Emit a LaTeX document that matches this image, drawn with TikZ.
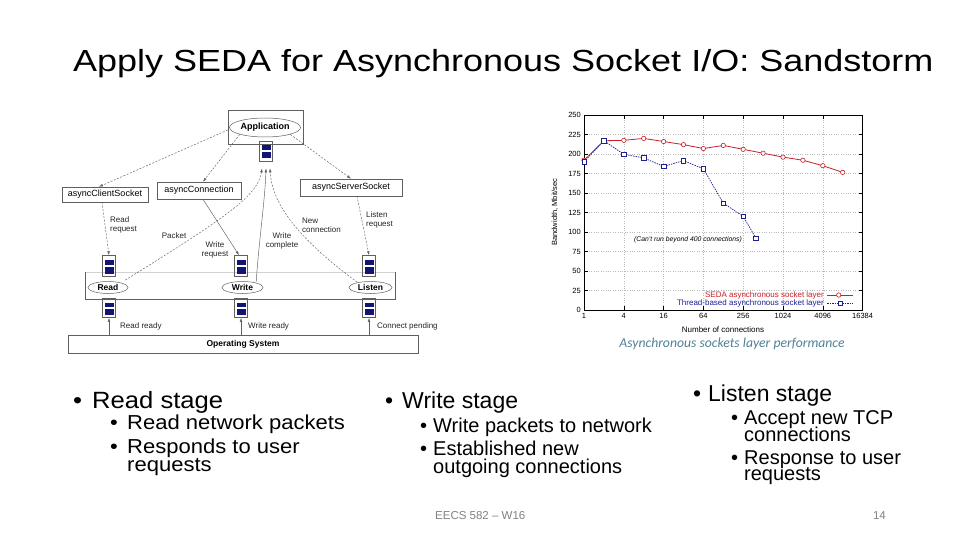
\documentclass[tikz,border=0pt]{standalone}
\usepackage{fontspec}
\setmainfont{Liberation Sans}
\newfontfamily\titlefont[FakeStretch=1.18]{Liberation Sans}
\newfontfamily\widefont[FakeStretch=1.09]{Liberation Sans}
\newfontfamily\capfont{Carlito}
\usetikzlibrary{arrows.meta,shapes.geometric,calc}
\definecolor{qblue}{RGB}{20,20,120}
\definecolor{dgray}{RGB}{95,95,95}
\definecolor{sedared}{RGB}{200,30,40}
\definecolor{thrblue}{RGB}{30,30,150}
\definecolor{capcol}{RGB}{80,130,150}
\definecolor{footgray}{RGB}{130,130,130}
\tikzset{
  dbox/.style={draw=dgray, line width=0.5pt, inner sep=0pt, font=\fontsize{9}{10}\selectfont},
  stg/.style={ellipse, draw=dgray, line width=0.5pt, inner sep=0pt, font=\bfseries\fontsize{8.5}{10}\selectfont},
  queue/.style={draw=dgray, line width=0.6pt, minimum width=13pt, minimum height=20pt, inner sep=0pt,
    path picture={
      \fill[qblue] ([shift={(2pt,-4pt)}]path picture bounding box.north west) rectangle ([shift={(-2pt,0.8pt)}]path picture bounding box.east);
      \fill[qblue] ([shift={(2pt,-0.8pt)}]path picture bounding box.west) rectangle ([shift={(-2pt,2.5pt)}]path picture bounding box.south east);
    }},
  lab/.style={font=\fontsize{8}{9}\selectfont, text=black!85, inner sep=0pt},
  dar/.style={draw=dgray, line width=0.45pt, dash pattern=on 2pt off 1.5pt, -{Latex[length=4pt,width=2.6pt]}},
  sar/.style={draw=dgray, line width=0.45pt, -{Latex[length=4pt,width=2.6pt]}},
  grid/.style={draw=gray!55, line width=0.4pt, dotted},
  tick/.style={font=\fontsize{7.5}{8.5}\selectfont, inner sep=1pt},
  mainb/.style={anchor=base west, inner sep=0pt, font=\fontsize{23}{26}\selectfont},
  subb/.style={anchor=base west, inner sep=0pt, font=\fontsize{20}{22}\selectfont},
  mainw/.style={anchor=base west, inner sep=0pt, font=\widefont\fontsize{23.5}{26}\selectfont},
  subw/.style={anchor=base west, inner sep=0pt, font=\widefont\fontsize{20.2}{22}\selectfont},
}
\begin{document}
\begin{tikzpicture}[x=1pt,y=-1pt]
\useasboundingbox (0,0) rectangle (960,540);
\fill[white] (0,0) rectangle (960,540);

% Title
\node[anchor=base west, inner sep=0pt, font=\titlefont\fontsize{30.5}{34}\selectfont] (title) at (73,72) {Apply SEDA for Asynchronous Socket I/O: Sandstorm};

% ---------- SEDA diagram ----------
\node[draw=dgray, line width=0.5pt, minimum width=75pt, minimum height=34pt, inner sep=0pt] (appbox) at (265.5,127) {};
\node[stg, minimum width=71pt, minimum height=19pt, font=\bfseries\fontsize{9}{10}\selectfont] (app) at (265,127.5) {Application};
\node[queue] (appq) at (266,151) {};

\node[dbox, minimum width=86pt, minimum height=15pt] (cs) at (105,194.5) {asyncClientSocket};
\node[dbox, minimum width=84pt, minimum height=17pt] (conn) at (199,190.5) {asyncConnection};
\node[dbox, minimum width=102pt, minimum height=17pt] (ss) at (351,187.5) {asyncServerSocket};

\node[minimum width=310pt, minimum height=27pt, inner sep=0pt] (band) at (240,285.5) {};
\draw[gray!35, line width=0.6pt] (band.north west) -- (band.north east);
\draw[dgray, line width=0.6pt] (band.north east) -- (band.south east) -- (band.south west) -- (band.north west);

\node[queue, minimum height=21pt] (readq) at (109,266) {};
\node[queue, minimum height=21pt] (writeq) at (241,266) {};
\node[queue, minimum height=21pt] (listenq) at (369,266) {};
\node[queue, minimum height=19pt] (readq2) at (109,308) {};
\node[queue, minimum height=19pt] (writeq2) at (241,308) {};
\node[queue, minimum height=19pt] (listenq2) at (369,308) {};

\node[stg, minimum width=40pt, minimum height=12pt] (read) at (108,287.5) {Read};
\node[stg, minimum width=41pt, minimum height=12pt] (write) at (242.5,287.5) {Write};
\node[stg, minimum width=43pt, minimum height=12pt] (listen) at (370.5,287.5) {Listen};

\node[draw=dgray, line width=0.6pt, minimum width=350pt, minimum height=18pt, inner sep=0pt, font=\bfseries\fontsize{8.5}{10}\selectfont] (os) at (243,344) {Operating System};

% connectors
\draw[dar] ([yshift=-3pt]appbox.west) -- ([xshift=-6pt]cs.north);
\draw[dar] (app.south west) -- ([xshift=4pt]conn.north);
\draw[dar] (app.south east) -- (ss.north);
\draw[dar] ([xshift=-3pt]cs.south) -- (readq.north);
\draw[sar] ([xshift=4pt]conn.south) -- ([xshift=-2pt]writeq.north);
\draw[dar] ([xshift=6pt]ss.south) -- (listenq.north);
\draw[dar] ([shift={(3pt,3pt)}]read.north east) .. controls (230,215) and (258,195) .. ([shift={(-4pt,-7pt)}]appq.south);
\draw[sar] ([shift={(-1pt,1pt)}]write.north east) .. controls (259,240) and (265,200) .. ([shift={(0pt,-7pt)}]appq.south);
\draw[dar] ([shift={(2pt,1pt)}]listen.north west) .. controls (300,240) and (272,205) .. ([shift={(4pt,-7pt)}]appq.south);
\draw[sar] (readq2 |- os.north) -- (readq2.south);
\draw[sar] (writeq2 |- os.north) -- (writeq2.south);
\draw[sar] (listenq2 |- os.north) -- (listenq2.south);

% connector labels
\node[lab, align=left, anchor=north west] (lrr) at (110,217) {Read\\request};
\node[lab] (lpk) at (174,236) {Packet};
\node[lab, align=center] (lwr) at (215,250) {Write\\request};
\node[lab, align=center] (lwc) at (282,241) {Write\\complete};
\node[lab, align=left, anchor=north west] (lnc) at (302,218) {New\\connection};
\node[lab, align=left, anchor=north west] (llr) at (366,212) {Listen\\request};
\node[lab, anchor=west] (lrd) at (120,326) {Read ready};
\node[lab, anchor=west] (lwd) at (248,326) {Write ready};
\node[lab, anchor=west] (lcp) at (377,326) {Connect pending};

% ---------- chart ----------
\begin{scope}[shift={(584,310)}, x=19.9pt, y=0.78pt]
  \foreach \v in {25,50,...,225} \draw[grid] (0,\v) -- (14,\v);
  \foreach \k in {2,4,...,12} \draw[grid] (\k,0) -- (\k,250);
  \draw[line width=0.5pt] (0,0) rectangle (14,250);
  \foreach \v in {0,25,...,250} {
    \draw[line width=0.4pt] (0,\v) -- (0.2,\v);
    \draw[line width=0.4pt] (14,\v) -- (13.8,\v);
    \node[tick, anchor=east] at (-0.1,\v) {\v};
  }
  \foreach \k/\l in {0/1,2/4,4/16,6/64,8/256,10/1024,12/4096,14/16384} {
    \draw[line width=0.4pt] (\k,0) -- (\k,5);
    \draw[line width=0.4pt] (\k,250) -- (\k,245);
    \node[tick, anchor=north] at (\k,-3) {\l};
  }
  \draw[sedared, line width=0.8pt] plot coordinates {(0,192) (1,217) (2,217.5) (3,220) (4,216) (5,212) (6,207) (7,211) (8,206) (9,201) (10,196) (11,192) (12,185) (13,176.5)};
  \foreach \x/\y in {0/192,1/217,2/217.5,3/220,4/216,5/212,6/207,7/211,8/206,9/201,10/196,11/192,12/185,13/176.5}
    \draw[sedared, fill=white, line width=0.6pt] (\x,\y) circle (2.2pt);
  \draw[thrblue, line width=0.7pt, dash pattern=on 1.5pt off 1pt] plot coordinates {(0,190) (1,217) (2,199.6) (3,195) (4,184) (5,191.5) (6,181) (7,137) (8,120) (8.64,92)};
  \foreach \x/\y in {0/190,1/217,2/199.6,3/195,4/184,5/191.5,6/181,7/137,8/120,8.64/92}
    \draw[thrblue, fill=white, line width=0.6pt] ([shift={(-2.2pt,-2.2pt)}]\x,\y) rectangle ([shift={(2.2pt,2.2pt)}]\x,\y);
\end{scope}
\node[tick, rotate=90] (ylab) at (555,212) {Bandwidth, Mbit/sec};
\node[tick, font=\fontsize{8}{9}\selectfont] (xlab) at (723,330) {Number of connections};
\node[tick, font=\itshape\fontsize{6.8}{8}\selectfont] (note) at (688,240) {(Can't run beyond 400 connections)};
\node[tick, anchor=east, text=sedared, font=\fontsize{8}{9}\selectfont] (leg1) at (825,295) {SEDA asynchronous socket layer};
\coordinate (l1a) at ([xshift=2pt]leg1.east);
\coordinate (l1b) at ([xshift=28pt]leg1.east);
\draw[sedared, line width=0.8pt] (l1a) -- (l1b);
\draw[sedared, fill=white, line width=0.6pt] ($(l1a)!0.45!(l1b)$) circle (2.2pt);
\node[tick, anchor=east, text=thrblue, font=\fontsize{8}{9}\selectfont] (leg2) at (825,303) {Thread-based asynchronous socket layer};
\coordinate (l2a) at ([xshift=2pt]leg2.east);
\coordinate (l2b) at ([xshift=28pt]leg2.east);
\draw[thrblue, line width=0.7pt, dash pattern=on 1.5pt off 1pt] (l2a) -- (l2b);
\draw[thrblue, fill=white, line width=0.6pt] ($(l2a)!0.5!(l2b)+(-2.2,-2.2)$) rectangle ++(4.4,4.4);
\node[inner sep=0pt, text=capcol, font=\capfont\itshape\fontsize{13.7}{15}\selectfont] (cap) at (732,344) {Asynchronous sockets layer performance};

% ---------- bullets ----------
\node[mainw] (rb) at (73,408) {•};
\node[mainw] (rt) at (92,408) {Read stage};
\node[subw] (rb1) at (110,429) {•};
\node[subw] (rt1) at (127,429) {Read network packets};
\node[subw] (rb2) at (110,453) {•};
\node[subw] (rt2) at (127,453) {Responds to user};
\node[subw] (rt3) at (127,471) {requests};

\node[mainb] (wb) at (385,408) {•};
\node[mainb] (wt) at (402,408) {Write stage};
\node[subb] (wb1) at (420,432) {•};
\node[subb] (wt1) at (433,432) {Write packets to network};
\node[subb] (wb2) at (420,455) {•};
\node[subb] (wt2) at (433,455) {Established new};
\node[subb] (wt3) at (433,473) {outgoing connections};

\node[mainb] (lb) at (693,401) {•};
\node[mainb] (lt) at (708,401) {Listen stage};
\node[subb] (lb1) at (731,424) {•};
\node[subb] (lt1) at (744,424) {Accept new TCP};
\node[subb] (lt2) at (744,441) {connections};
\node[subb] (lb2) at (731,464) {•};
\node[subb] (lt3) at (744,464) {Response to user};
\node[subb] (lt4) at (744,480) {requests};

% footer
\node[anchor=base west, inner sep=0pt, text=footgray, font=\fontsize{11.5}{13}\selectfont] (foot) at (435,519) {EECS 582 – W16};
\node[anchor=base east, inner sep=0pt, text=footgray, font=\fontsize{11.5}{13}\selectfont] (pnum) at (886,519) {14};
\end{tikzpicture}
\end{document}
